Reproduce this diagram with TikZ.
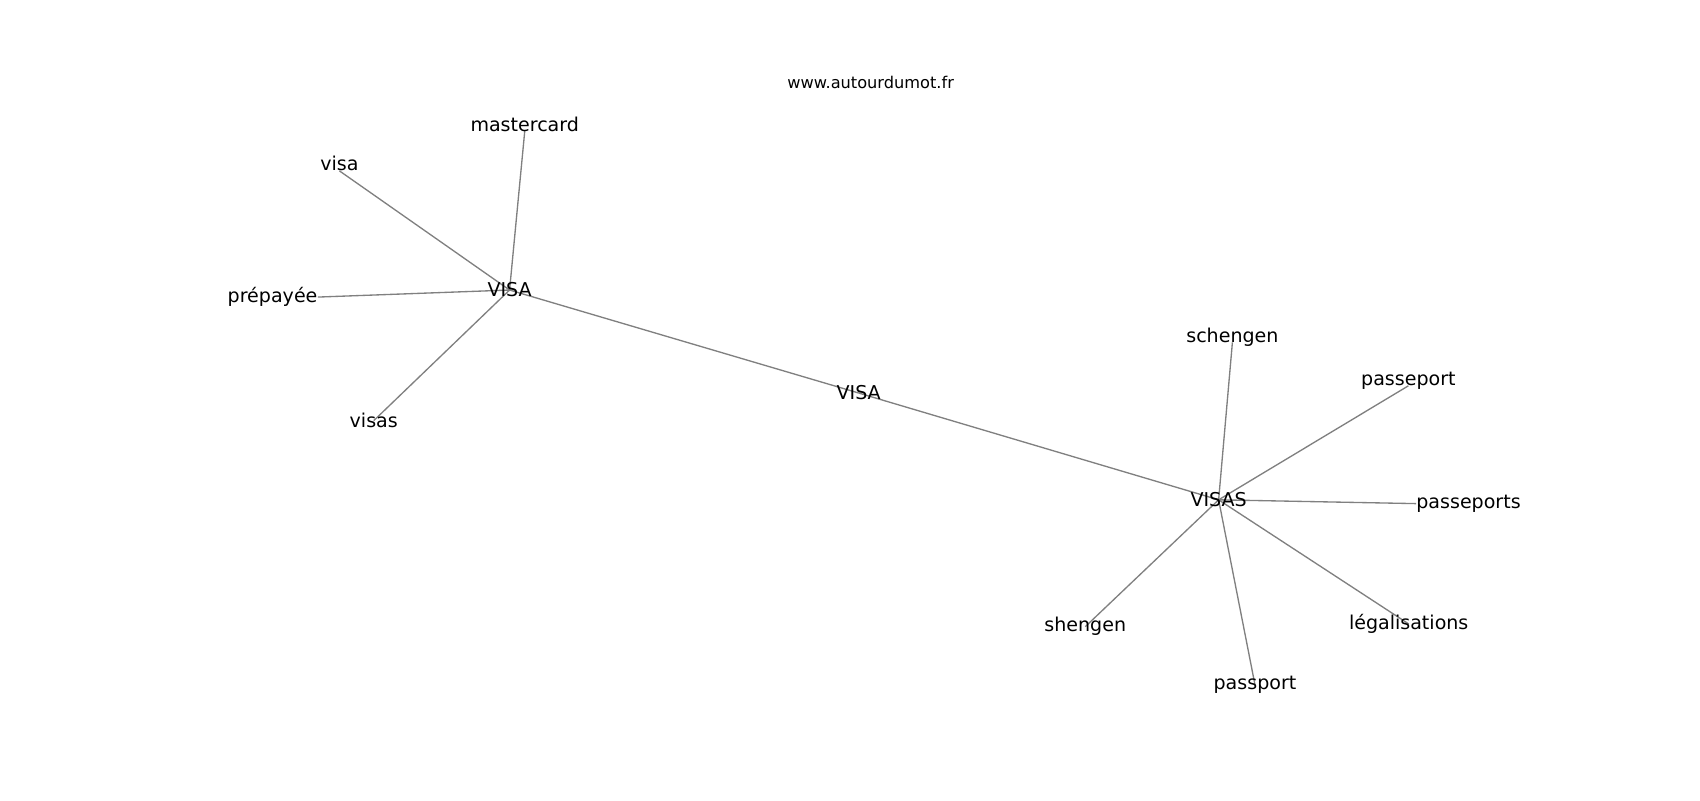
\documentclass[tikz,border=0pt]{standalone}
\usepackage{fontspec}
\setmainfont{DejaVu Sans}
\usetikzlibrary{backgrounds}

\begin{document}
\begin{tikzpicture}[
  x=0.02cm, y=-0.02cm,
  word/.style={inner sep=0pt, font=\fontsize{10}{12}\selectfont},
  source/.style={inner sep=0pt, font=\fontsize{8.5}{10}\selectfont},
  link/.style={draw=gray, line width=0.7pt}
]
  \useasboundingbox (0,0) rectangle (1568,738);

  \node (source) [source] at (803,76) {www.autourdumot.fr};

  \node (cardhub) [word] at (470,267.5) {VISA};
  \node (mastercard) [word] at (484,114.4) {mastercard};
  \node (visa) [word] at (313,151) {visa};
  \node (prepayee) [word] at (251.4,274) {prépayée};
  \node (visas) [word] at (344.7,388) {visas};

  \node (middle) [word] at (792,362.5) {VISA};

  \node (travelhub) [word] at (1124,461) {VISAS};
  \node (schengen) [word] at (1136.7,311) {schengen};
  \node (passeport) [word] at (1299,351.5) {passeport};
  \node (passeports) [word] at (1354.5,464.5) {passeports};
  \node (shengen) [word] at (1001,578) {shengen};
  \node (legalisations) [word] at (1299.3,575.5) {légalisations};
  \node (passport) [word] at (1157.5,631.5) {passport};

  \begin{scope}[on background layer]
    \draw [link] (cardhub.center) -- (mastercard.base);
    \draw [link] (cardhub.center) -- (visa.base);
    \draw [link] (cardhub.center) -- (prepayee.east);
    \draw [link] (cardhub.center) -- (visas.center);
    \draw [link] (cardhub.center) -- (middle.center);

    \draw [link] (middle.center) -- (travelhub.center);

    \draw [link] (travelhub.center) -- (schengen.base);
    \draw [link] (travelhub.center) -- (passeport.base);
    \draw [link] (travelhub.center) -- (passeports.west);
    \draw [link] (travelhub.center) -- (shengen.center);
    \draw [link] (travelhub.center) -- (legalisations.center);
    \draw [link] (travelhub.center) -- (passport.center);
  \end{scope}

\end{tikzpicture}
\end{document}
